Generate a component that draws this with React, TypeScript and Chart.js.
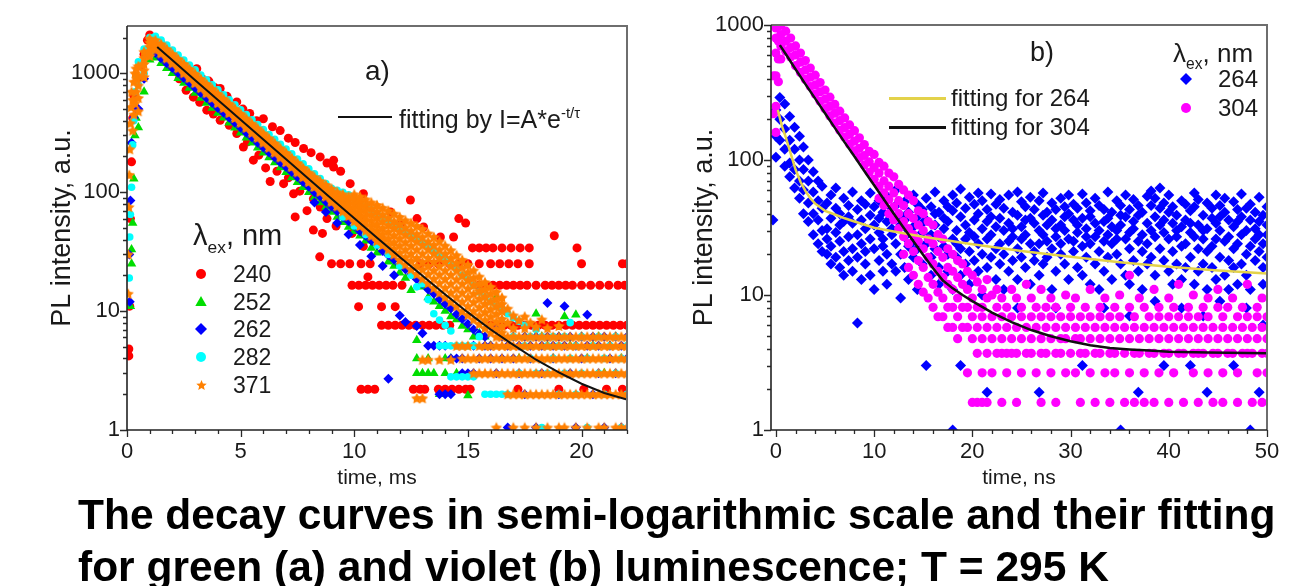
import React, { useEffect, useRef } from 'react';
import { Chart, registerables } from 'chart.js';

Chart.register(...registerables);

const FONT = 'Arial, "Liberation Sans", Helvetica, sans-serif';
const INK = '#1a1a1a';

// ---------- Panel a) : time, ms ----------
const X_TICKS_A = [0, 5, 10, 15, 20];
const Y_TICKS = [1, 10, 100, 1000];

const FIT_A: [number, number][] = [
  [1.33, 1663], [2, 1286], [3, 876], [4, 596], [5, 406], [6, 277], [7, 189], [8, 129], [9, 88], [10, 60.3],
  [11, 41.4], [12, 28.5], [13, 19.8], [14, 13.8], [15, 9.75], [16, 7.0], [17, 5.2], [18, 3.9], [19, 3.05],
  [20, 2.45], [21, 2.05], [22, 1.8],
];

const RED_240: [number, number][] = [
  [0.08, 4.2], [0.08, 4.8], [0.12, 11], [0.15, 60], [0.2, 180], [0.25, 420], [0.3, 650], [0.45, 900], [0.6, 1150],
  [0.75, 1450], [0.9, 1900], [1.0, 2100], [1.15, 1950], [1.3, 1800],
  [1.5, 1750], [1.75, 1580], [2.0, 1330], [2.25, 1230], [2.5, 1090], [2.75, 1050], [3.07, 1095], [3.3, 900],
  [3.6, 860], [3.85, 760], [4.1, 745], [4.4, 640], [4.83, 575], [5.1, 500], [5.4, 460], [5.7, 400], [6.0, 415],
  [6.4, 355], [6.74, 330], [7.1, 285], [7.4, 262], [7.77, 233], [8.1, 215], [8.5, 198], [8.8, 176], [9.09, 163],
  [9.09, 186], [9.4, 150], [9.82, 118], [10.4, 97],
  [2.3, 900], [2.6, 720], [2.92, 630], [3.2, 570], [3.51, 490], [3.8, 455], [4.1, 403], [4.5, 365], [4.83, 312],
  [5.12, 240], [5.3, 265], [5.56, 186], [5.8, 205], [6.1, 160], [6.3, 123], [6.6, 150], [6.89, 118], [7.1, 132],
  [7.33, 97], [7.6, 102], [7.92, 70], [8.2, 88], [8.5, 75], [8.8, 60], [8.48, 28.6], [8.2, 48], [8.6, 45],
  [7.4, 62], [9.2, 52], [9.5, 80], [9.9, 45], [10.2, 60], [10.4, 35], [10.6, 19.4], [11.2, 40], [11.6, 68],
  [12.03, 53], [12.47, 86], [12.76, 60], [13.05, 51], [13.79, 42], [14.37, 42], [14.6, 60], [14.9, 55],
  [10.19, 10.9], [11.2, 10.9], [11.8, 10.9], [18.8, 43], [22, 25],
  [15.2, 34], [15.5, 34], [15.8, 34], [16.1, 34], [16.5, 34], [16.9, 34], [17.3, 34], [17.7, 34], [19.8, 34],
  [9.0, 25], [9.4, 25], [9.8, 25], [10.3, 25], [10.7, 25], [12.9, 25], [13.3, 25], [13.7, 25], [14.2, 25],
  [14.6, 25], [15.0, 25], [15.5, 25], [16.0, 25], [16.4, 25], [16.8, 25], [17.2, 25], [17.7, 25], [20.0, 25], [21.8, 25],
  [9.9, 16.5], [10.2, 16.5], [10.5, 16.5], [10.8, 16.5], [11.1, 16.5], [11.4, 16.5], [11.7, 16.5], [12.1, 16.5],
  [15.5, 16.5], [15.8, 16.5], [16.1, 16.5], [16.4, 16.5], [16.7, 16.5], [17.0, 16.5], [17.3, 16.5], [17.6, 16.5],
  [18.0, 16.5], [18.4, 16.5], [18.7, 16.5], [19.0, 16.5], [19.3, 16.5], [19.6, 16.5], [20.0, 16.5], [20.4, 16.5],
  [20.8, 16.5], [21.2, 16.5], [21.6, 16.5], [21.9, 16.5],
  [11.2, 7.6], [11.5, 7.6], [11.8, 7.6], [12.1, 7.6], [12.4, 7.6], [12.7, 7.6], [13.0, 7.6], [13.3, 7.6],
  [13.6, 7.6], [13.9, 7.6], [14.2, 7.6], [16.0, 7.6], [16.3, 7.6], [16.6, 7.6], [16.9, 7.6], [17.2, 7.6],
  [17.5, 7.6], [17.8, 7.6], [18.1, 7.6], [18.4, 7.6], [18.7, 7.6], [19.0, 7.6], [19.3, 7.6], [19.6, 7.6],
  [19.9, 7.6], [20.2, 7.6], [20.5, 7.6], [20.8, 7.6], [21.1, 7.6], [21.4, 7.6], [21.7, 7.6], [22.0, 7.6],
  [10.3, 2.2], [10.6, 2.2], [10.9, 2.2], [12.6, 2.2], [12.9, 2.2], [13.1, 2.2], [13.7, 2.2], [14.0, 2.2],
  [14.3, 2.2], [14.6, 2.2], [14.9, 2.2], [15.1, 2.2], [17.2, 2.2], [19.0, 2.2], [20.1, 2.2], [21.1, 2.2], [21.8, 2.2],
];

const GREEN_RISE: [number, number][] = [[0.15, 11], [0.2, 25], [0.2, 33], [0.25, 55], [0.3, 130], [0.35, 300], [0.4, 420]];
const GREEN_252: [number, number[]][] = [
  [0.5, [350]], [0.75, [700]], [1, [1300]], [1.25, [1350]], [1.5, [1215]], [1.75, [1103]], [2, [1002]], [2.25, [910]],
  [2.5, [827]], [2.75, [751]], [3, [683]], [3.25, [619]], [3.5, [562]], [3.75, [511]], [4, [464]], [4.25, [422]],
  [4.5, [383]], [4.75, [348]], [5, [316]], [5.25, [287]], [5.5, [261]], [5.75, [237]], [6, [215]], [6.25, [196]],
  [6.5, [178]], [6.75, [161]], [7, [147]], [7.25, [133]], [7.5, [121]], [7.75, [110]], [8, [100]], [8.25, [91]],
  [8.5, [82]], [8.75, [75]], [9, [68]], [9.25, [62]], [9.5, [56]], [9.75, [51]], [10, [47]], [10.25, [43]],
  [10.5, [39]], [10.75, [34]], [11, [31]], [11.25, [36]], [11.5, [26]], [11.75, [24]], [12, [21]], [12.25, [19]],
  [12.5, [15]], [12.75, [5.7, 4, 3]], [13, [16, 3]], [13.25, [13, 4, 3]], [13.5, [12, 3]], [13.75, [11, 2]],
  [14, [10, 4, 3]], [14.25, [9, 4]], [14.5, [8.5, 3]], [14.75, [7.5]], [15, [7, 1.95]], [15.25, [6.1]],
  [15.5, [6.5]], [15.75, [6.1]], [16, [5.1]], [16.25, [13.2]], [16.5, [6.1]], [16.75, [5.1]], [17, [6.1]],
  [17.25, [4]], [17.5, [6.1]], [17.75, [5.1]], [18, [9.5]], [18.25, [6.1]], [18.5, [5.1]], [18.75, [4]],
  [19, [6.1]], [19.25, [9]], [19.5, [5.1]], [19.75, [9.3]], [20, [6.1]], [20.25, [4]], [20.5, [5.1]],
  [20.75, [6.1]], [21, [3]], [21.25, [5.1]], [21.5, [6.1]], [21.75, [4]], [22, [5.1]],
];

const BLUE_RISE: [number, number][] = [[0.1, 30], [0.12, 12], [0.15, 85], [0.2, 260], [0.3, 420], [0.4, 500]];
const BLUE_262: [number, number[]][] = [
  [0.5, [500]], [0.75, [900]], [1, [1450]], [1.25, [1480]], [1.5, [1340]], [1.75, [1218]], [2, [1106]], [2.25, [1005]],
  [2.5, [913]], [2.75, [829]], [3, [753]], [3.25, [684]], [3.5, [621]], [3.75, [564]], [4, [512]], [4.25, [465]],
  [4.5, [422]], [4.75, [384]], [5, [349]], [5.25, [317]], [5.5, [288]], [5.75, [261]], [6, [238]], [6.25, [216]],
  [6.5, [196]], [6.75, [178]], [7, [163]], [7.25, [148]], [7.5, [134]], [7.75, [122]], [8, [111]], [8.25, [100, 82]],
  [8.5, [92]], [8.75, [83, 68]], [9, [76]], [9.25, [69, 55]], [9.5, [62]], [9.75, [57, 44]], [10, [52]],
  [10.25, [47, 36]], [10.5, [43]], [10.75, [39, 29]], [11, [36]], [11.25, [32, 24]], [11.5, [29.5, 2.7]],
  [11.75, [27, 20]], [12, [24.5, 9.2]], [12.25, [22.5, 8.1]], [12.5, [20.5]], [12.75, [18.5, 7.5]],
  [13, [17, 6.5]], [13.25, [15.2, 5.1]], [13.5, [14, 5.1]], [13.75, [12.6, 5.1, 2]], [14, [11.5, 5.1, 2]],
  [14.25, [10.5, 4, 2]], [14.5, [9.4, 4]], [14.75, [8.6, 4, 3]], [15, [7.8, 3]], [15.25, [7, 5.1, 3]],
  [15.5, [6.4, 4]], [15.75, [6.1, 5.1]], [16, [5.1, 4]], [16.25, [7, 3]], [16.5, [6.1, 4]], [16.75, [5.1, 1.05]],
  [17, [6.1, 4]], [17.25, [5.1, 3]], [17.5, [6.1, 2]], [17.75, [5.1, 4]], [18, [6.1, 1.05]], [18.25, [5.1, 3]],
  [18.5, [11.7, 6.1]], [18.75, [5.1, 4]], [19, [6.1, 2]], [19.25, [11, 5.1]], [19.5, [6.1, 3]], [19.75, [5.1, 1.05]],
  [20, [6.1, 4]], [20.25, [9.3, 5.1]], [20.5, [6.1, 2]], [20.75, [5.1, 3]], [21, [6.1, 1.05]], [21.25, [5.1, 4]],
  [21.5, [6.1, 3]], [21.75, [5.1, 1.05]], [22, [6.1, 4]],
];

const CYAN_RISE: [number, number][] = [[0.1, 19], [0.12, 42], [0.15, 65], [0.2, 110], [0.25, 250], [0.3, 400], [0.35, 700], [0.4, 950]];
const CYAN_282: [number, number[]][] = [
  [0.5, [1250, 800]], [0.75, [1600, 1000]], [1, [2000, 1500]], [1.25, [2050]], [1.5, [1900]], [1.75, [1725]],
  [2, [1568]], [2.25, [1424]], [2.5, [1293]], [2.75, [1175]], [3, [1068]], [3.25, [969]], [3.5, [880]],
  [3.75, [799]], [4, [726]], [4.25, [660]], [4.5, [599]], [4.75, [544]], [5, [494]], [5.25, [449]], [5.5, [407]],
  [5.75, [371]], [6, [337]], [6.25, [306]], [6.5, [278]], [6.75, [253]], [7, [231]], [7.25, [210]], [7.5, [190]],
  [7.75, [173]], [8, [157]], [8.25, [143]], [8.5, [130]], [8.75, [118]], [9, [108]], [9.25, [104]],
  [9.5, [100, 62]], [9.75, [95]], [10, [88, 52]], [10.25, [82]], [10.5, [76, 44]], [10.75, [71]], [11, [66, 36]],
  [11.25, [62]], [11.5, [58, 30]], [11.75, [54]], [12, [50, 24]], [12.25, [47]], [12.5, [44, 20]], [12.75, [40, 16]],
  [13, [38, 17]], [13.25, [35, 12.5]], [13.5, [32, 9.5]], [13.75, [29, 8.4, 5.1]], [14, [27, 7.6, 5.1]],
  [14.25, [24.5, 6.8, 5.1, 2.8]], [14.5, [22.5, 5.1, 2.8]], [14.75, [20, 5.1, 2.8]], [15, [18.5, 5.1, 2.8]],
  [15.25, [16.5, 5.1, 2.8]], [15.5, [14.5, 6.1]], [15.75, [13.2, 2]], [16, [12, 2]], [16.25, [11, 2]],
  [16.5, [10.5, 2]], [16.75, [9.5, 2]], [17, [8.8, 6.1]], [17.25, [8.2, 3]], [17.5, [7.6, 5.1]], [17.75, [6.1, 4]],
  [18, [7, 3]], [18.25, [6.1, 1.05]], [18.5, [5.1, 3]], [18.75, [6.1, 4]], [19, [5.1, 2]], [19.25, [6.1, 3]],
  [19.5, [8, 4]], [19.75, [5.1, 2]], [20, [6.1, 3]], [20.25, [4, 1.05]], [20.5, [5.1]], [20.75, [6.1, 3]],
  [21, [4, 2]], [21.25, [5.1]], [21.5, [6.1, 3]], [21.75, [4, 1.05]], [22, [5.1, 2]],
];

const ORANGE_RISE: [number, number][] = [
  [0.05, 14], [0.05, 30], [0.08, 75], [0.1, 140], [0.12, 230], [0.15, 380], [0.18, 520], [0.2, 700], [0.25, 330],
  [0.25, 600], [0.3, 450], [0.3, 850], [0.35, 560], [0.35, 1000], [0.4, 700], [0.4, 1100], [0.45, 900],
];
const ORANGE_371: [number, number[]][] = [
  [0.5, [1150, 960, 790, 620, 480]], [0.75, [1520, 1350, 1200, 1060, 930]], [1, [1960, 1820, 1680, 1540, 1400]],
  [1.25, [1900, 1800, 1720, 1650, 1580]],
  [1.5, [1759, 1713, 1658, 1604, 1557, 1510, 1471]], [1.75, [1598, 1555, 1506, 1456, 1414, 1372, 1336]],
  [2, [1452, 1414, 1369, 1324, 1285, 1246, 1214]], [2.25, [1319, 1284, 1243, 1202, 1167, 1132, 1103]],
  [2.5, [1198, 1166, 1129, 1092, 1060, 1028, 1002]], [2.75, [1088, 1059, 1026, 992, 963, 934, 910]],
  [3, [989, 963, 932, 901, 875, 849, 827]], [3.25, [897, 873, 846, 818, 794, 770, 750]],
  [3.5, [815, 793, 768, 743, 721, 699, 681]], [3.75, [740, 721, 698, 675, 655, 635, 619]],
  [4, [672, 655, 634, 613, 595, 577, 562]], [4.25, [611, 595, 576, 557, 541, 525, 511]],
  [4.5, [555, 540, 523, 506, 491, 476, 464]], [4.75, [504, 491, 475, 459, 446, 433, 421]],
  [5, [458, 446, 431, 417, 405, 393, 383]], [5.25, [416, 405, 392, 379, 368, 357, 348]],
  [5.5, [377, 367, 356, 344, 334, 324, 316]], [5.75, [344, 334, 324, 313, 304, 295, 287]],
  [6, [312, 304, 294, 284, 276, 268, 261]], [6.25, [284, 276, 267, 259, 251, 243, 237]],
  [6.5, [258, 251, 243, 235, 228, 221, 215]], [6.75, [234, 228, 220, 213, 207, 201, 196]],
  [7, [214, 208, 201, 195, 189, 183, 179]], [7.25, [194, 189, 183, 177, 172, 167, 163]],
  [7.5, [176, 172, 166, 161, 156, 151, 147]], [7.75, [160, 156, 151, 146, 142, 138, 134]],
  [8, [146, 142, 137, 133, 129, 125, 122]], [8.25, [134, 129, 125, 121, 117, 114, 111]],
  [8.5, [124, 119, 114, 110, 106, 103, 101]], [8.75, [115, 110, 105, 100, 97, 94, 92]],
  [9, [107, 101, 96, 92, 88, 85, 83]], [9.25, [100, 95, 89, 85, 81, 78, 76]],
  [9.5, [96, 89, 84, 79, 75, 72, 69]], [9.75, [92, 85, 80, 75, 71, 67, 63]],
  [10, [96, 87, 80, 73, 67, 62, 57]], [10.25, [92, 83, 75, 68, 62, 57, 52]],
  [10.5, [87, 78, 70, 63, 57, 52, 47.5]], [10.75, [82, 73, 65, 58, 52, 47.5, 43]],
  [11, [78, 69, 61, 54, 48, 43.5, 39]], [11.25, [74, 65, 57, 50, 44.5, 40, 36]],
  [11.5, [70, 61, 53, 46.5, 41, 36.5, 33]], [11.75, [66, 57, 50, 43.5, 38, 33.5, 30]],
  [12, [62, 54, 47, 41, 35.7, 31, 27]], [12.25, [58, 50.5, 44, 38, 33, 28.5, 24.7]],
  [12.5, [55, 47.5, 41, 35.5, 30.5, 26.5, 22.5]], [12.75, [52, 44.5, 38.5, 33, 28, 24, 20.5, 1.85]],
  [13, [49, 42, 36, 30.5, 26, 22.5, 18.8, 3.9, 1.85]], [13.25, [45, 38.5, 33, 28, 24, 20.5, 17.2, 3.9]],
  [13.5, [42, 36, 30.5, 26, 22, 18.7, 15.7]], [13.75, [38.5, 33, 28, 24, 20.3, 17.2, 14.3, 3.9]],
  [14, [35.5, 30.5, 26, 22, 18.6, 15.7, 13.1]], [14.25, [32.5, 28, 24, 20.2, 17, 14.3, 12, 3.9]],
  [14.5, [29.5, 25.5, 22, 18.5, 15.5, 13.1, 11, 5.1]], [14.75, [27, 23.3, 20, 17, 14.3, 12, 10, 5.1, 4]],
  [15, [24.5, 21.2, 18.2, 15.5, 13.1, 11, 9.3, 5.1, 4]], [15.25, [22, 19, 16.5, 14, 11.9, 10, 8.5, 4, 3]],
  [15.5, [19.5, 17, 14.8, 12.7, 10.8, 9.2, 7.8, 5.1, 4, 3]], [15.75, [17.5, 15.3, 13.3, 11.5, 9.8, 8.4, 7.2, 5.1, 4, 3]],
  [16, [16, 14, 12.1, 10.4, 9, 7.7, 6.6, 5.1, 4, 3]], [16.25, [14.5, 12.6, 11, 9.5, 8.2, 7.1, 6.1, 5.1, 4, 3, 1.05]],
  [16.5, [13, 11.5, 10, 8.6, 7.5, 6.6, 6.1, 5.1, 4, 3]],
  [16.75, [10.5, 8, 6.1, 5.1, 4, 3, 2]], [17, [9.2, 7.2, 6.1, 5.1, 4, 3, 2, 1.05]], [17.25, [8.4, 6.1, 5.1, 4, 3, 2]],
  [17.5, [9, 7.2, 6.1, 5.1, 4, 3, 2, 1.05]], [17.75, [8, 6.1, 5.1, 4, 3, 2]], [18, [7.4, 6.1, 5.1, 4, 3, 2, 1.05]],
  [18.25, [8.5, 6.1, 5.1, 4, 3, 2]], [18.5, [7.2, 6.1, 5.1, 4, 3, 2, 1.05]], [18.75, [6.1, 5.1, 4, 3, 2]],
  [19, [7.5, 6.1, 5.1, 4, 3, 2, 1.05]], [19.25, [6.1, 5.1, 4, 3, 2, 1.05]], [19.5, [6.1, 5.1, 4, 3, 2]],
  [19.75, [6.1, 5.1, 4, 3, 2, 1.05]], [20, [6.1, 5.1, 4, 3, 2]], [20.25, [6.1, 5.1, 4, 3, 2, 1.05]],
  [20.5, [6.1, 5.1, 4, 3, 2]], [20.75, [6.1, 5.1, 4, 3, 2, 1.05]], [21, [6.1, 5.1, 4, 3, 2, 1.05]],
  [21.25, [6.1, 5.1, 4, 3, 2]], [21.5, [6.1, 5.1, 4, 3, 2, 1.05]], [21.75, [6.1, 5.1, 4, 3, 2, 1.05]],
  [22, [6.1, 5.1, 4, 3, 2, 1.05]],
];

// ---------- Panel b) : time, ns ----------
const X_TICKS_B = [0, 10, 20, 30, 40, 50];

const FIT_264: [number, number][] = [
  [0.2, 235], [0.6, 180], [1, 148], [1.5, 112], [2, 85], [2.5, 69], [3, 59], [3.5, 52], [4, 47.5], [5, 42],
  [6, 39.5], [7, 37], [8, 35], [10, 31.5], [12, 29.5], [15, 27], [20, 23.8], [25, 21.2], [30, 19.2], [35, 17.5],
  [40, 16.2], [45, 15.2], [50, 14.4],
];
const FIT_304: [number, number][] = [
  [0.4, 710], [1, 610], [2, 470], [3, 365], [4, 285], [5, 222], [6, 173], [7, 135], [8, 106], [9, 83], [10, 65],
  [11, 51], [12, 40], [13, 31.5], [14, 25], [15, 19.8], [16, 15.8], [17, 12.8], [18, 11.2], [19, 10], [20, 9],
  [22, 7.4], [24, 6.3], [26, 5.5], [28, 4.95], [30, 4.55], [32, 4.25], [34, 4.05], [36, 3.95], [38, 3.88],
  [40, 3.8], [44, 3.75], [50, 3.7],
];

const BLUE_264: [number, number[]][] = [
  [-0.3, [36]], [0, [235, 150, 105]], [0.4, [290, 200, 140]], [0.9, [260, 170, 120, 90]], [1.4, [210, 140, 95, 75]],
  [1.9, [175, 120, 85, 62]], [2.4, [150, 100, 70, 52]], [2.8, [125, 85, 60, 40]], [3.3, [100, 70, 48, 35]],
  [3.8, [82, 58, 40, 28]], [4.3, [70, 50, 36, 24]], [4.7, [64, 44, 30, 21]],
  [5.2, [48, 31, 20, 26]], [5.6, [37, 55, 23, 17]], [6.1, [29, 44, 19, 62]], [6.5, [40, 25, 16, 33]],
  [6.9, [52, 21, 35, 14]], [7.4, [27, 46, 18, 38]], [7.8, [34, 22, 58, 15]], [8.3, [43, 28, 19, 6.2]],
  [8.7, [24, 36, 50, 13]], [9.1, [31, 47, 17, 21]], [9.6, [39, 26, 14, 57]], [10.0, [22, 33, 45, 11]],
  [10.5, [50, 29, 18, 37]], [10.9, [26, 41, 15, 23]], [11.3, [35, 54, 20, 12]], [11.8, [28, 44, 17, 31]],
  [12.2, [46, 24, 60, 15]], [12.7, [33, 20, 39, 9.5]], [13.1, [27, 49, 16, 36]], [13.5, [41, 23, 30, 13]],
  [14.0, [55, 32, 19, 25]], [14.4, [38, 22, 47, 11]], [14.9, [29, 43, 17, 34]], [15.3, [24, 52, 36, 3.0]],
  [15.8, [45, 28, 19, 14]], [16.2, [33, 58, 22, 40]], [16.6, [27, 41, 16, 12]], [17.1, [50, 31, 23, 37]],
  [17.5, [35, 20, 45, 15]], [18.0, [42, 26, 55, 11, 1.0]], [18.4, [30, 48, 19, 24]], [18.8, [38, 22, 61, 14, 3.0]],
  [19.3, [26, 44, 33, 17]], [19.7, [53, 29, 21, 12]], [20.2, [36, 47, 18, 27]], [20.6, [24, 40, 57, 15]],
  [21.0, [31, 50, 20, 10]], [21.5, [43, 26, 35, 16, 1.9]], [21.9, [28, 56, 19, 38]], [22.4, [47, 32, 22, 13]],
  [22.8, [37, 24, 51, 17]], [23.2, [30, 44, 20, 11]], [23.7, [55, 34, 25, 15]], [24.1, [27, 41, 18, 31]],
  [24.6, [39, 22, 58, 13, 8]], [25.0, [32, 49, 19, 26]], [25.4, [45, 28, 16, 36]], [25.9, [24, 37, 53, 12]],
  [26.3, [34, 21, 43, 18]], [26.8, [50, 30, 24, 14, 1.9]], [27.2, [28, 57, 39, 17]], [27.6, [41, 25, 19, 33]],
  [28.1, [36, 48, 22, 11]], [28.5, [27, 43, 31, 15, 8]], [29.0, [52, 33, 20, 24]], [29.4, [30, 45, 17, 38]],
  [29.8, [40, 26, 55, 13]], [30.3, [25, 36, 21, 47]], [30.7, [44, 29, 16, 33]], [31.2, [56, 37, 23, 14, 3.0]],
  [31.6, [31, 48, 19, 27]], [32.0, [38, 24, 42, 12]], [32.5, [27, 52, 34, 17]], [32.9, [46, 30, 21, 11]],
  [33.4, [35, 43, 25, 15, 8]], [33.8, [28, 58, 19, 37]], [34.2, [41, 24, 32, 13]], [34.7, [50, 30, 20, 26]],
  [35.1, [33, 46, 17, 39, 1.0]], [35.6, [26, 38, 55, 14]], [36.0, [43, 29, 22, 12, 7]], [36.4, [31, 51, 18, 35]],
  [36.9, [39, 25, 46, 15, 1.9]], [37.3, [28, 41, 21, 11]], [37.8, [54, 34, 24, 17]], [38.2, [46, 59, 30, 19]],
  [38.6, [38, 52, 27, 14, 9]], [39.1, [62, 33, 22, 44]], [39.5, [29, 48, 18, 36, 3.0]], [40.0, [41, 26, 55, 15]],
  [40.4, [34, 21, 45, 12]], [40.8, [27, 39, 17, 30]], [41.3, [50, 32, 23, 13, 8]], [41.7, [36, 24, 47, 16]],
  [42.2, [29, 42, 19, 34, 3.0]], [42.6, [45, 27, 57, 12]], [43.0, [33, 51, 22, 15]], [43.5, [26, 39, 17, 30, 7]],
  [43.9, [48, 31, 21, 11, 1.9]], [44.4, [37, 23, 44, 16]], [44.8, [55, 34, 26, 13]], [45.2, [30, 46, 19, 38, 9]],
  [45.7, [41, 25, 52, 14]], [46.1, [27, 36, 18, 11]], [46.6, [49, 32, 22, 16, 3.0]], [47.0, [35, 24, 43, 12]],
  [47.4, [28, 56, 38, 17]], [47.9, [44, 30, 20, 14, 8]], [48.3, [36, 23, 47, 11, 1.0]], [48.8, [31, 41, 18, 26]],
  [49.2, [53, 28, 21, 35, 1.9]], [49.6, [39, 24, 16, 12, 6]], [50.0, [33, 45, 19, 28]],
];

const MAGENTA_304: [number, number[]][] = [
  [-0.25, [420, 220]], [0, [950, 800, 620, 420, 250, 160]], [0.25, [980, 760, 560, 380]], [0.5, [1000, 850, 700, 560]],
  [1, [900, 760, 640]], [1.5, [800, 680, 580]], [2, [700, 600, 500]], [2.5, [620, 530, 445]], [3, [545, 465, 395]],
  [3.5, [480, 410, 350]], [4, [425, 360, 308]], [4.5, [375, 320, 272]], [5, [330, 282, 240]], [5.5, [292, 250, 212]],
  [6, [258, 222, 188]], [6.5, [230, 196, 166]], [7, [205, 174, 148]], [7.5, [182, 155, 131]], [8, [165, 138, 117]],
  [8.5, [146, 122, 104]], [9, [130, 108, 92]], [9.5, [116, 97, 81]], [10, [110, 88, 72]], [10.5, [96, 80, 64, 52]],
  [11, [90, 70, 57, 46]], [11.5, [80, 64, 51, 40]], [12, [75, 57, 45, 36]], [12.5, [66, 50, 40, 31]],
  [13, [60, 46, 35, 27, 20]], [13.5, [55, 40, 31, 24, 16]], [14, [50, 37, 28, 21, 14]], [14.5, [42, 33, 25, 18, 12]],
  [15, [40, 30, 22, 16, 10.5]], [15.5, [35, 26, 19, 13.5, 9.5]], [16, [33, 24, 17, 12, 8.1]],
  [16.5, [28, 21, 15, 10.5, 6.9]], [17, [26, 19, 13.5, 9.5, 6.9]], [17.5, [22, 16, 12, 8.1, 5.75]],
  [18, [20, 15, 11, 8.1, 5.75]], [18.5, [18, 13.5, 9.5, 6.9, 4.75]], [19, [17, 12, 8.1, 5.75]],
  [19.5, [15, 11, 8.1, 5.75, 2.65]], [20, [14, 9.5, 6.9, 4.75, 1.6]], [20.5, [12.5, 8.1, 5.75, 3.7, 1.6]],
  [21, [11, 8.1, 6.9, 4.75, 2.65, 1.6]], [21.5, [13, 9.5, 5.75, 3.7, 1.6]], [22, [10, 6.9, 4.75, 2.65]],
  [22.5, [11, 8.1, 5.75, 3.7]], [23, [9.5, 6.9, 4.75, 3.7, 1.6]], [23.5, [8.1, 5.75, 3.7, 2.65]],
  [24, [11, 6.9, 4.75, 3.7]], [24.5, [9.5, 5.75, 3.7, 1.6]], [25, [8.1, 6.9, 4.75, 2.65]], [25.5, [12, 5.75, 3.7]],
  [26, [9.5, 6.9, 4.75, 3.7]], [26.5, [8.1, 5.75, 2.65]], [27, [11, 6.9, 4.75, 3.7, 1.6]], [27.5, [8.1, 5.75, 3.7]],
  [28, [9.5, 6.9, 4.75, 2.65]], [28.5, [8.1, 5.75, 3.7, 1.6]], [29, [6.9, 4.75, 3.7]], [29.5, [10, 5.75, 4.75, 2.65]],
  [30, [8.1, 6.9, 3.7]], [30.5, [9.5, 5.75, 4.75, 2.65]], [31, [6.9, 4.75, 3.7, 1.6]], [31.5, [8.1, 5.75, 3.7]],
  [32, [11, 6.9, 4.75, 2.65]], [32.5, [5.75, 3.7, 1.6]], [33, [8.1, 6.9, 4.75, 3.7]], [33.5, [9.5, 5.75, 2.65]],
  [34, [6.9, 4.75, 3.7, 1.6]], [34.5, [8.1, 5.75, 3.7, 2.65]], [35, [10, 6.9, 4.75]], [35.5, [5.75, 3.7, 1.6]],
  [36, [14, 8.1, 4.75, 2.65]], [36.5, [6.9, 5.75, 3.7, 1.6]], [37, [9.5, 4.75, 3.7]], [37.5, [8.1, 5.75, 2.65, 1.6]],
  [38, [6.9, 4.75, 3.7]], [38.5, [11, 5.75, 3.7, 1.6]], [39, [8.1, 6.9, 4.75, 2.65]], [39.5, [5.75, 3.7]],
  [40, [9.5, 6.9, 4.75, 3.7, 1.6]], [40.5, [8.1, 5.75, 2.65]], [41, [12, 6.9, 4.75, 3.7]], [41.5, [5.75, 3.7, 1.6]],
  [42, [8.1, 6.9, 4.75]], [42.5, [10, 5.75, 3.7, 2.65]], [43, [6.9, 4.75, 3.7, 1.6]], [43.5, [8.1, 5.75, 3.7]],
  [44, [9.5, 6.9, 4.75, 2.65]], [44.5, [5.75, 3.7, 1.6]], [45, [11, 8.1, 4.75, 3.7]], [45.5, [6.9, 5.75, 2.65, 1.6]],
  [46, [8.1, 4.75, 3.7]], [46.5, [9.5, 5.75, 3.7]], [47, [6.9, 4.75, 2.65, 1.6]], [47.5, [8.1, 5.75, 3.7]],
  [48, [12, 6.9, 4.75, 3.7]], [48.5, [5.75, 3.7, 1.6]], [49, [8.1, 6.9, 4.75, 2.65]], [49.5, [9.5, 5.75, 3.7, 1.6]],
  [50, [6.9, 4.75, 3.7, 2.65]],
];

// ---------- helpers ----------
const pairs = (p: [number, number][]) => p.map(([x, y]) => ({ x, y }));
const rows = (r: [number, number[]][]) => r.flatMap(([x, vs]) => vs.map((y) => ({ x, y })));

function makeStar(color: string, size: number) {
  const c = document.createElement('canvas');
  c.width = size;
  c.height = size;
  const g = c.getContext('2d')!;
  const cx = size / 2, cy = size / 2 + 0.5, R = size / 2, r = R * 0.5;
  g.beginPath();
  for (let k = 0; k < 10; k++) {
    const a = -Math.PI / 2 + (k * Math.PI) / 5;
    const rr = k % 2 === 0 ? R : r;
    const px = cx + rr * Math.cos(a), py = cy + rr * Math.sin(a);
    if (k === 0) g.moveTo(px, py); else g.lineTo(px, py);
  }
  g.closePath();
  g.fillStyle = color;
  g.fill();
  return c;
}

const scatterSet = (label: string, data: any[], color: string, style: any, radius: number, order: number) => ({
  type: 'scatter', label, data, backgroundColor: color, borderColor: color, pointStyle: style,
  pointRadius: radius, pointHoverRadius: radius, pointBorderWidth: 0, showLine: false, order,
});
const lineSet = (label: string, data: any[], color: string, width: number, order: number) => ({
  type: 'scatter', label, data, showLine: true, borderColor: color, backgroundColor: color, borderWidth: width,
  pointRadius: 0, pointHoverRadius: 0, order, fill: false, tension: 0,
});

function framePlugin(xMajor: number, xMinor: number) {
  return {
    id: 'frame',
    afterDatasetsDraw(chart: any) {
      const { ctx, chartArea: a, scales } = chart;
      const xs = scales.x, ys = scales.y;
      ctx.save();
      ctx.strokeStyle = '#2a2a2a';
      ctx.lineWidth = 1.3;
      ctx.beginPath();
      const start = Math.ceil(xs.min / xMinor - 1e-9) * xMinor;
      for (let v = start; v <= xs.max + 1e-9; v += xMinor) {
        const px = Math.round(xs.getPixelForValue(v)) + 0.5;
        const major = Math.abs(v / xMajor - Math.round(v / xMajor)) < 1e-6;
        ctx.moveTo(px, a.bottom);
        ctx.lineTo(px, a.bottom + (major ? 7 : 4));
      }
      for (let d = 1; d <= ys.max; d *= 10) {
        for (let m = 1; m <= 9; m++) {
          const v = d * m;
          if (v > ys.max) break;
          const py = Math.round(ys.getPixelForValue(v)) + 0.5;
          ctx.moveTo(a.left, py);
          ctx.lineTo(a.left - (m === 1 ? 7 : 4), py);
        }
      }
      ctx.stroke();
      ctx.strokeStyle = '#6e6e6e';
      ctx.lineWidth = 2;
      ctx.beginPath();
      ctx.moveTo(a.left, a.top);
      ctx.lineTo(a.right, a.top);
      ctx.lineTo(a.right, a.bottom);
      ctx.stroke();
      ctx.strokeStyle = '#222';
      ctx.lineWidth = 1.6;
      ctx.beginPath();
      ctx.moveTo(a.left, a.top);
      ctx.lineTo(a.left, a.bottom);
      ctx.lineTo(a.right, a.bottom);
      ctx.stroke();
      ctx.restore();
    },
  };
}

function baseOptions(o: {
  xMin: number; xMax: number; xStep: number; xTicks: number[]; yMax: number; yWidth: number;
  padRight: number; padTop: number; xTitle: string; yTitlePad: number;
}) {
  return {
    responsive: false,
    animation: false,
    events: [],
    layout: { padding: { left: 0, top: o.padTop, right: o.padRight, bottom: 0 } },
    plugins: { legend: { display: false }, tooltip: { enabled: false } },
    scales: {
      x: {
        type: 'linear', min: o.xMin, max: o.xMax,
        grid: { display: false, drawTicks: false }, border: { display: false },
        afterFit: (s: any) => { s.height = 70; },
        ticks: {
          stepSize: o.xStep, includeBounds: false, autoSkip: false, maxRotation: 0, padding: 9, color: INK,
          font: { family: FONT, size: 22 },
          callback: (v: any) => (o.xTicks.includes(v) ? String(v) : ''),
        },
        title: { display: true, text: o.xTitle, color: INK, font: { family: FONT, size: 21 }, padding: { top: 0, bottom: 9 } },
      },
      y: {
        type: 'logarithmic', min: 1, max: o.yMax,
        grid: { display: false, drawTicks: false }, border: { display: false },
        afterFit: (s: any) => { s.width = o.yWidth; },
        ticks: {
          autoSkip: false, padding: 7, color: INK, font: { family: FONT, size: 22 },
          callback: (v: any) => (Y_TICKS.includes(v) ? String(v) : ''),
        },
        title: { display: true, text: 'PL intensity, a.u.', color: INK, font: { family: FONT, size: 27 }, padding: { top: o.yTitlePad, bottom: 0 } },
      },
    },
  };
}

// ---------- overlay bits ----------
const Txt = ({ x, cy, size, children }: any) => (
  <div style={{ position: 'absolute', left: x, top: cy - size * 0.5, fontSize: size, lineHeight: 1, fontFamily: FONT, color: INK, whiteSpace: 'nowrap' }}>
    {children}
  </div>
);

const Marker = ({ shape, color, x, y, r }: any) => {
  const s = Math.ceil(r * 2 + 2);
  const c = s / 2;
  let el: any = null;
  if (shape === 'circle') el = <circle cx={c} cy={c} r={r} fill={color} />;
  if (shape === 'diamond') el = <polygon points={`${c},${c - r} ${c + r},${c} ${c},${c + r} ${c - r},${c}`} fill={color} />;
  if (shape === 'triangle') el = <polygon points={`${c},${c - r} ${c + r * 0.95},${c + r * 0.65} ${c - r * 0.95},${c + r * 0.65}`} fill={color} />;
  if (shape === 'star') {
    const pts: string[] = [];
    for (let k = 0; k < 10; k++) {
      const a = -Math.PI / 2 + (k * Math.PI) / 5;
      const rr = k % 2 === 0 ? r : r * 0.45;
      pts.push(`${c + rr * Math.cos(a)},${c + rr * Math.sin(a)}`);
    }
    el = <polygon points={pts.join(' ')} fill={color} />;
  }
  return (
    <svg style={{ position: 'absolute', left: x - c, top: y - c }} width={s} height={s}>
      {el}
    </svg>
  );
};

const Lambda = ({ x, baseline, size }: any) => (
  <div style={{ position: 'absolute', left: x, top: baseline - size * 0.85, fontSize: size, lineHeight: 1, fontFamily: FONT, color: INK, whiteSpace: 'nowrap' }}>
    λ<span style={{ fontSize: size * 0.6, position: 'relative', top: size * 0.28 }}>ex</span>, nm
  </div>
);

const LegLine = ({ x, y, w, color, h }: any) => (
  <div style={{ position: 'absolute', left: x, top: y - h / 2, width: w, height: h, background: color }} />
);

export default function App() {
  const refA = useRef<HTMLCanvasElement>(null);
  const refB = useRef<HTMLCanvasElement>(null);

  useEffect(() => {
    const star = makeStar('#ff8000', 12);
    const chartA = new Chart(refA.current!, {
      type: 'scatter',
      data: {
        datasets: [
          lineSet('fitting by I=A*e^-t/τ', pairs(FIT_A), '#111111', 2, 0),
          scatterSet('371', [...pairs(ORANGE_RISE), ...rows(ORANGE_371)], '#ff8000', star, 5, 1),
          scatterSet('282', [...pairs(CYAN_RISE), ...rows(CYAN_282)], '#00ffff', 'circle', 3.8, 2),
          scatterSet('262', [...pairs(BLUE_RISE), ...rows(BLUE_262)], '#0000ff', 'rectRot', 5, 3),
          scatterSet('252', [...pairs(GREEN_RISE), ...rows(GREEN_252)], '#00dd00', 'triangle', 5.5, 4),
          scatterSet('240', pairs(RED_240), '#ff0000', 'circle', 4.5, 5),
        ] as any,
      },
      options: baseOptions({
        xMin: 0, xMax: 22, xStep: 5, xTicks: X_TICKS_A, yMax: 2500, yWidth: 127,
        padRight: 33, padTop: 26, xTitle: 'time, ms', yTitlePad: 46,
      }) as any,
      plugins: [framePlugin(5, 1)],
    });
    const chartB = new Chart(refB.current!, {
      type: 'scatter',
      data: {
        datasets: [
          lineSet('fitting for 304', pairs(FIT_304), '#111111', 2.5, 0),
          lineSet('fitting for 264', pairs(FIT_264), '#e3d24a', 2.5, 1),
          scatterSet('304', rows(MAGENTA_304), '#ff00ff', 'circle', 4.6, 2),
          scatterSet('264', rows(BLUE_264), '#0000ff', 'rectRot', 5.5, 3),
        ] as any,
      },
      options: baseOptions({
        xMin: -0.5, xMax: 50, xStep: 10, xTicks: X_TICKS_B, yMax: 1000, yWidth: 111,
        padRight: 49, padTop: 25, xTitle: 'time, ns', yTitlePad: 28,
      }) as any,
      plugins: [framePlugin(10, 2)],
    });
    return () => {
      chartA.destroy();
      chartB.destroy();
    };
  }, []);

  return (
    <div style={{ position: 'absolute', left: 0, top: 0, width: 1316, height: 586, overflow: 'hidden', background: '#ffffff' }}>
      <canvas ref={refA} width={660} height={500} style={{ position: 'absolute', left: 0, top: 0, width: 660, height: 500 }} />
      <canvas ref={refB} width={656} height={500} style={{ position: 'absolute', left: 660, top: 0, width: 656, height: 500 }} />

      {/* panel a annotations */}
      <Txt x={365} cy={71} size={28}>a)</Txt>
      <LegLine x={338} y={117} w={54} h={1.6} color="#111" />
      <Txt x={399} cy={119} size={25}>
        fitting by I=A*e<span style={{ fontSize: 15, position: 'relative', top: -10 }}>-t/τ</span>
      </Txt>
      <Lambda x={193} baseline={246} size={29} />
      <Marker shape="circle" color="#ff0000" x={201} y={274} r={5} />
      <Txt x={233} cy={274} size={23}>240</Txt>
      <Marker shape="triangle" color="#00dd00" x={201} y={302} r={6} />
      <Txt x={233} cy={302} size={23}>252</Txt>
      <Marker shape="diamond" color="#0000ff" x={201} y={329} r={6} />
      <Txt x={233} cy={329} size={23}>262</Txt>
      <Marker shape="circle" color="#00ffff" x={201} y={357} r={5} />
      <Txt x={233} cy={357} size={23}>282</Txt>
      <Marker shape="star" color="#ff8000" x={201} y={385} r={5.5} />
      <Txt x={233} cy={385} size={23}>371</Txt>

      {/* panel b annotations */}
      <Txt x={1030} cy={52} size={27}>b)</Txt>
      <Lambda x={1173} baseline={62} size={26} />
      <Marker shape="diamond" color="#0000ff" x={1186} y={79} r={6} />
      <Txt x={1218} cy={79} size={24}>264</Txt>
      <Marker shape="circle" color="#ff00ff" x={1186} y={108} r={5} />
      <Txt x={1218} cy={108} size={24}>304</Txt>
      <LegLine x={889} y={98} w={57} h={3} color="#e3d24a" />
      <Txt x={951} cy={98} size={24}>fitting for 264</Txt>
      <LegLine x={889} y={127} w={57} h={3} color="#111" />
      <Txt x={951} cy={127} size={24}>fitting for 304</Txt>

      {/* caption */}
      <div style={{ position: 'absolute', left: 78, top: 489, fontFamily: FONT, fontWeight: 'bold', fontSize: 42.5, lineHeight: '52px', color: '#000', whiteSpace: 'nowrap' }}>
        The decay curves in semi-logarithmic scale and their fitting
        <br />
        for green (a) and violet (b) luminescence; T = 295 K
      </div>
    </div>
  );
}
